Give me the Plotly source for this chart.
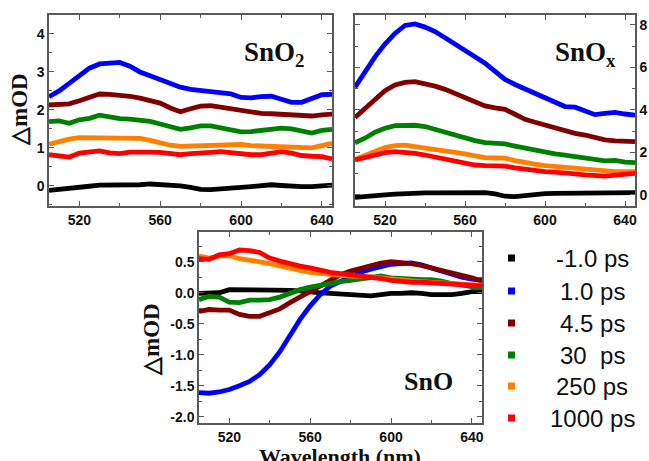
import plotly.graph_objects as go

wavelength = [505, 510, 515, 520, 525, 530, 535, 540, 545, 550, 555, 560, 565, 570, 575,
              580, 585, 590, 595, 600, 605, 610, 615, 620, 625, 630, 635, 640, 645]

delays = ["-1.0 ps", "1.0 ps", "4.5 ps", "30  ps", "250 ps", "1000 ps"]
colors = ["#000000", "#0000FF", "#800000", "#008000", "#FF8000", "#FF0000"]

# SnO2 panel
sno2_m1 = [-0.12, -0.10, -0.08, -0.04, -0.01, 0.02, 0.02, 0.01, 0.02, 0.03, 0.05, 0.04, 0.03, 0.0, -0.04,
           -0.09, -0.10, -0.09, -0.07, -0.04, -0.02, 0.01, 0.03, 0.01, -0.02, -0.02, -0.02, 0.0, 0.02]
sno2_1 = [2.35, 2.5, 2.7, 2.92, 3.1, 3.21, 3.24, 3.25, 3.15, 3.0, 2.9, 2.79, 2.68, 2.6, 2.54,
          2.51, 2.5, 2.47, 2.42, 2.33, 2.32, 2.35, 2.36, 2.28, 2.2, 2.2, 2.3, 2.4, 2.41]
sno2_45 = [2.13, 2.13, 2.16, 2.24, 2.33, 2.42, 2.41, 2.39, 2.36, 2.31, 2.25, 2.18, 2.05, 1.95, 2.03,
           2.1, 2.11, 2.07, 2.02, 1.96, 1.93, 1.91, 1.9, 1.89, 1.87, 1.85, 1.84, 1.87, 1.89]
sno2_30 = [1.69, 1.71, 1.65, 1.74, 1.78, 1.86, 1.82, 1.77, 1.76, 1.74, 1.7, 1.63, 1.56, 1.49, 1.53,
           1.58, 1.58, 1.52, 1.46, 1.42, 1.43, 1.46, 1.48, 1.52, 1.5, 1.43, 1.39, 1.46, 1.49]
sno2_250 = [1.1, 1.17, 1.23, 1.27, 1.27, 1.28, 1.28, 1.27, 1.26, 1.25, 1.2, 1.12, 1.07, 1.04, 1.05,
            1.06, 1.07, 1.08, 1.1, 1.09, 1.06, 1.05, 1.05, 1.04, 1.03, 1.02, 1.0, 1.06, 1.12]
sno2_1000 = [0.82, 0.8, 0.76, 0.86, 0.89, 0.92, 0.87, 0.85, 0.89, 0.9, 0.89, 0.88, 0.85, 0.82, 0.85,
             0.88, 0.88, 0.9, 0.87, 0.83, 0.82, 0.82, 0.86, 0.9, 0.86, 0.8, 0.78, 0.77, 0.71]

# SnOx panel
snox_m1 = [-0.11, -0.09, -0.05, 0.0, 0.04, 0.07, 0.09, 0.1, 0.1, 0.11, 0.11, 0.11, 0.11, 0.11, 0.05,
           -0.06, -0.08, -0.03, 0.04, 0.06, 0.07, 0.08, 0.09, 0.1, 0.1, 0.11, 0.13, 0.14, 0.11]
snox_1 = [5.07, 5.8, 6.5, 7.1, 7.6, 7.98, 8.05, 7.9, 7.69, 7.4, 7.12, 6.82, 6.5, 6.2, 5.82,
          5.44, 5.2, 4.99, 4.78, 4.55, 4.35, 4.16, 4.13, 3.95, 3.78, 3.84, 3.89, 3.81, 3.76]
snox_45 = [3.65, 4.08, 4.55, 4.91, 5.18, 5.3, 5.33, 5.25, 5.12, 4.97, 4.78, 4.6, 4.38, 4.19, 4.1,
           4.03, 3.8, 3.56, 3.42, 3.29, 3.15, 3.01, 2.9, 2.82, 2.7, 2.59, 2.55, 2.54, 2.51]
snox_30 = [2.46, 2.67, 2.95, 3.14, 3.26, 3.29, 3.28, 3.22, 3.08, 2.93, 2.8, 2.68, 2.56, 2.46, 2.43,
           2.4, 2.3, 2.2, 2.09, 1.99, 1.93, 1.88, 1.8, 1.73, 1.66, 1.6, 1.63, 1.54, 1.52]
snox_250 = [1.68, 1.87, 2.07, 2.23, 2.32, 2.34, 2.28, 2.21, 2.16, 2.12, 2.03, 1.93, 1.84, 1.76, 1.74,
            1.73, 1.62, 1.52, 1.45, 1.38, 1.34, 1.3, 1.24, 1.18, 1.14, 1.1, 1.1, 1.1, 1.1]
snox_1000 = [1.65, 1.77, 1.91, 1.99, 2.04, 2.02, 1.96, 1.88, 1.78, 1.69, 1.57, 1.46, 1.41, 1.38, 1.37,
             1.36, 1.28, 1.21, 1.15, 1.1, 1.07, 1.05, 0.99, 0.94, 0.91, 0.89, 0.93, 0.99, 1.02]

# SnO panel
sno_m1 = [-0.01, -0.01, 0.0, 0.05, 0.05, 0.05, 0.04, 0.04, 0.04, 0.04, 0.03, 0.01, 0.0, -0.01, -0.02,
          -0.03, -0.04, -0.05, -0.03, -0.01, -0.01, 0.0, -0.01, -0.03, -0.03, -0.03, -0.01, 0.02, 0.02]
sno_1 = [-1.61, -1.62, -1.6, -1.56, -1.5, -1.43, -1.32, -1.16, -0.95, -0.68, -0.43, -0.21, -0.03, 0.11, 0.19,
         0.27, 0.33, 0.38, 0.43, 0.46, 0.47, 0.48, 0.45, 0.4, 0.35, 0.29, 0.25, 0.22, 0.2]
sno_45 = [-0.3, -0.27, -0.28, -0.28, -0.35, -0.38, -0.38, -0.33, -0.26, -0.16, -0.07, 0.02, 0.12, 0.21, 0.29,
          0.35, 0.4, 0.45, 0.48, 0.5, 0.49, 0.47, 0.44, 0.4, 0.37, 0.33, 0.29, 0.24, 0.19]
sno_30 = [-0.11, -0.06, -0.07, -0.15, -0.16, -0.12, -0.12, -0.11, -0.07, 0.0, 0.05, 0.09, 0.12, 0.16, 0.18,
          0.2, 0.22, 0.24, 0.27, 0.24, 0.23, 0.21, 0.21, 0.21, 0.19, 0.15, 0.12, 0.1, 0.08]
sno_250 = [0.59, 0.56, 0.59, 0.6, 0.55, 0.53, 0.5, 0.47, 0.43, 0.39, 0.36, 0.33, 0.31, 0.29, 0.28,
           0.27, 0.27, 0.26, 0.24, 0.22, 0.2, 0.19, 0.18, 0.17, 0.17, 0.16, 0.15, 0.13, 0.12]
sno_1000 = [0.55, 0.54, 0.61, 0.63, 0.69, 0.68, 0.65, 0.56, 0.51, 0.46, 0.43, 0.4, 0.36, 0.33, 0.31,
            0.29, 0.28, 0.26, 0.23, 0.2, 0.18, 0.17, 0.17, 0.16, 0.15, 0.13, 0.12, 0.12, 0.11]

x_tickvals = [520, 560, 600, 640]
x_ticktext = ["520", "560", "600", "640"]
sno2_tickvals = [0, 1, 2, 3, 4]
sno2_ticktext = ["0", "1", "2", "3", "4"]
snox_tickvals = [0, 2, 4, 6, 8]
snox_ticktext = ["0", "2", "4", "6", "8"]
sno_tickvals = [0.5, 0.0, -0.5, -1.0, -1.5, -2.0]
sno_ticktext = ["0.5", "0.0", "-0.5", "-1.0", "-1.5", "-2.0"]

panels = [
    ("x", "y", [sno2_m1, sno2_1, sno2_45, sno2_30, sno2_250, sno2_1000]),
    ("x2", "y2", [snox_m1, snox_1, snox_45, snox_30, snox_250, snox_1000]),
    ("x3", "y3", [sno_m1, sno_1, sno_45, sno_30, sno_250, sno_1000]),
]

W, H = 649, 461


def px_x(p):
    return p / W


def px_y(p):
    return 1 - p / H


fig = go.Figure()
for xa, ya, series in panels:
    for name, col, vals in zip(delays, colors, series):
        fig.add_trace(go.Scatter(x=wavelength, y=vals, mode="lines", name=name,
                                 line=dict(color=col, width=4.8), xaxis=xa, yaxis=ya,
                                 showlegend=False))

tickfont = dict(family="Liberation Sans, Arial", size=14, color="#111111", weight="bold")
frame = dict(showline=True, linecolor="#5a5a5a", linewidth=1.5, mirror="ticks",
             ticks="inside", ticklen=5, tickcolor="#5a5a5a", tickwidth=1,
             showgrid=False, zeroline=False, tickfont=tickfont, automargin=False)


def xaxis(domain, anchor):
    return dict(domain=domain, anchor=anchor, range=[505, 645], tickvals=x_tickvals,
                ticktext=x_ticktext,
                minor=dict(ticks="inside", ticklen=3, tickcolor="#5a5a5a", dtick=20, tick0=500),
                **frame)


def yaxis(domain, anchor, rng, tv, tt, minor_dtick, side="left"):
    return dict(domain=domain, anchor=anchor, range=rng, tickvals=tv, ticktext=tt, side=side,
                minor=dict(ticks="inside", ticklen=3, tickcolor="#5a5a5a", dtick=minor_dtick, tick0=0),
                **frame)


top_dom = [px_y(206), px_y(15)]
fig.update_layout(
    width=W, height=H, margin=dict(l=0, r=0, t=0, b=0, autoexpand=False),
    paper_bgcolor="white", plot_bgcolor="white", showlegend=False,
    xaxis=xaxis([px_x(49), px_x(332)], "y"),
    yaxis=yaxis(top_dom, "x", [-0.53, 4.5], sno2_tickvals, sno2_ticktext, 0.5),
    xaxis2=xaxis([px_x(355), px_x(635)], "y2"),
    yaxis2=yaxis(top_dom, "x2", [-0.52, 8.47], snox_tickvals, snox_ticktext, 1, side="right"),
    xaxis3=xaxis([px_x(199), px_x(482)], "y3"),
    yaxis3=yaxis([px_y(423), px_y(232)], "x3", [-2.1, 0.98], sno_tickvals, sno_ticktext, 0.25),
)

serif = "Liberation Serif, Times New Roman"
ann = []


def label(text, x, y, size, family=serif, angle=0, xanchor="center"):
    ann.append(dict(text=text, x=px_x(x), y=px_y(y), xref="paper", yref="paper",
                    xanchor=xanchor, yanchor="middle", textangle=angle, showarrow=False,
                    font=dict(family=family, size=size, color="#111111")))


# axis titles
label("<b>\u25b3mOD</b>", 20, 110, 23, angle=-90)
label("<b>\u25b3mOD</b>", 151, 340, 23, angle=-90)
label("<b>Wavelength (nm)</b>", 340, 456, 22)
# panel labels
label("<b>SnO<sub>2</sub></b>", 242, 54, 27, xanchor="left")
label("<b>SnO<sub>x</sub></b>", 553, 54, 27, xanchor="left")
label("<b>SnO</b>", 402, 381, 26, xanchor="left")

# legend
legend_rows = [258, 291, 323, 355, 386, 418]
shapes = []
for name, col, ry in zip(delays, colors, legend_rows):
    shapes.append(dict(type="rect", xref="paper", yref="paper",
                       x0=px_x(508), x1=px_x(515), y0=px_y(ry + 3.5), y1=px_y(ry - 3.5),
                       fillcolor=col, line=dict(width=0)))
    label(name.replace("  ", "&nbsp;&nbsp;"), 592, ry, 24, family="Liberation Sans, Arial")

fig.update_layout(annotations=ann, shapes=shapes)
fig.write_html("out.html", config={"displayModeBar": False},
               post_script="document.body.style.margin='0';document.body.style.padding='0';")
